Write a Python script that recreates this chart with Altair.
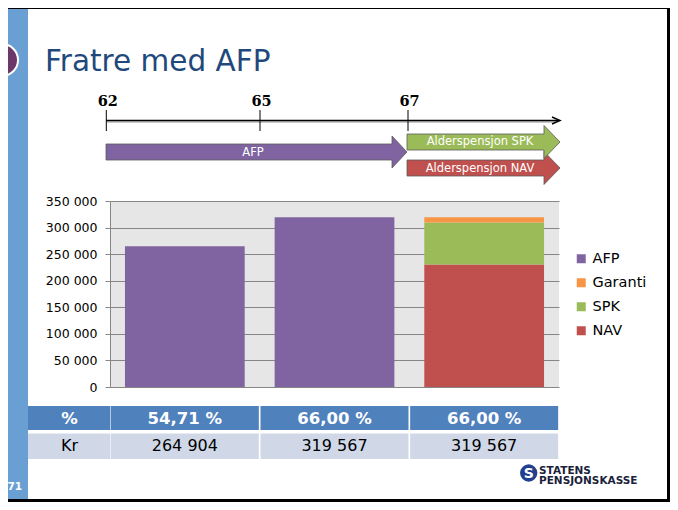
import altair as alt
import pandas as pd

# ---------------- data ----------------
CATS = ["62–64", "65–66", "67+"]
COMPONENTS = ["AFP", "Garanti", "SPK", "NAV"]
COLORS = ["#8064A2", "#F79646", "#9BBB59", "#C0504D"]

BAR_CAT = ["62–64", "65–66", "67+", "67+", "67+"]
BAR_COMP = ["AFP", "AFP", "NAV", "SPK", "Garanti"]
BAR_VAL = [264904, 319567, 230500, 79000, 10067]
STACK_RANK = {"AFP": 0, "NAV": 0, "SPK": 1, "Garanti": 2}

Y_TICKS = [0, 50000, 100000, 150000, 200000, 250000, 300000, 350000]

ROW1_LABEL = "%"
ROW1 = ["54,71 %", "66,00 %", "66,00 %"]
ROW2_LABEL = "Kr"
ROW2 = ["264 904", "319 567", "319 567"]

TITLE = "Fratre med AFP"
AGES = ["62", "65", "67"]
ARROW_TEXT = ["AFP", "Alderspensjon SPK", "Alderspensjon NAV"]
PAGE_NO = "71"
LOGO_TEXT = ["STATENS", "PENSJONSKASSE"]

# ---------------- layout (page pixels) ----------------
X0, Y0 = 110, 201          # page position of plot origin
PW, PH = 449, 186          # plot area
TOTAL_W, TOTAL_H = 662, 494
PAD = {"left": X0 - 8, "top": Y0 - 8,
       "right": TOTAL_W - (X0 - 8) - PW, "bottom": TOTAL_H - (Y0 - 8) - PH}


def X(p):
    return p - X0


def Y(p):
    return p - Y0


one = pd.DataFrame({"k": [0]})
FONT = "DejaVu Sans"


def rect(x1, x2, y1, y2, color):
    return alt.Chart(one).mark_rect(color=color).encode(
        x=alt.value(X(x1)), x2=alt.value(X(x2)),
        y=alt.value(Y(y1)), y2=alt.value(Y(y2)))


def label(text, x, y, size, color="black", font=FONT, weight="normal",
          align="center", baseline="middle", **kw):
    return alt.Chart(one).mark_text(
        text=text, fontSize=size, color=color, font=font, fontWeight=weight,
        align=align, baseline=baseline, **kw).encode(
        x=alt.value(X(x)), y=alt.value(Y(y)))


def shape(path, x, y, fill=None, stroke=None, sw=1.0):
    kw = dict(shape=path, size=4, opacity=1, strokeWidth=sw)
    if fill:
        kw.update(filled=True, fill=fill)
    else:
        kw.update(filled=False)
    if stroke:
        kw.update(stroke=stroke)
    return alt.Chart(one).mark_point(**kw).encode(
        x=alt.value(X(x)), y=alt.value(Y(y)))


layers = []

# slide frame / stripe
layers.append(rect(8, 28, 8, 503, "#6A9FD3"))
layers.append(rect(8, 670, 6, 9, "black"))
layers.append(rect(667, 670, 6, 503, "black"))
layers.append(rect(8, 670, 499, 503, "black"))
layers.append(alt.Chart(one).mark_point(
    shape="circle", size=1024, filled=True, fill="#6B3868", stroke="white",
    strokeWidth=2, opacity=1).encode(x=alt.value(X(2)), y=alt.value(Y(60))))

# title
layers.append(label(TITLE, 45, 71, 29.5, color="#1F497D", align="left",
                    baseline="alphabetic"))

# timeline
layers.append(alt.Chart(one).mark_rule(color="#b5b5b5", strokeWidth=1.5).encode(
    x=alt.value(X(106)), x2=alt.value(X(556)), y=alt.value(Y(122))))
layers.append(alt.Chart(one).mark_rule(color="black", strokeWidth=1.3).encode(
    x=alt.value(X(106)), x2=alt.value(X(559)), y=alt.value(Y(120.5))))
layers.append(shape("M -8 -3.5 L 0 0 L -8 3.5", 560, 120.5, stroke="black", sw=1.5))
TICK_X = [106.3, 260, 408]
for age, tx in zip(AGES, TICK_X):
    layers.append(alt.Chart(one).mark_rule(color="black", strokeWidth=1).encode(
        x=alt.value(X(tx)), y=alt.value(Y(110)), y2=alt.value(Y(131))))
    layers.append(label(age, tx + 1.5, 106, 14.5, font="DejaVu Serif",
                        weight="bold", baseline="alphabetic"))

# arrows
AFP_PATH = "M 0 -8 L 286 -8 L 286 -16 L 301 0 L 286 16 L 286 8 L 0 8 Z"
AP_PATH = "M 0 -8 L 137 -8 L 137 -16.5 L 153 0 L 137 16.5 L 137 8 L 0 8 Z"
layers.append(shape(AFP_PATH, 106, 152, fill=COLORS[0], stroke="#5a5a5a", sw=0.8))
layers.append(shape(AP_PATH, 407, 168, fill=COLORS[3], stroke="#5a5a5a", sw=0.8))
layers.append(shape(AP_PATH, 407, 142, fill=COLORS[2], stroke="#5a5a5a", sw=0.8))
layers.append(label(ARROW_TEXT[0], 253, 152.5, 11.5, color="white"))
layers.append(label(ARROW_TEXT[1], 480, 142, 11.5, color="white"))
layers.append(label(ARROW_TEXT[2], 480, 168.5, 11.5, color="white"))

# stacked bars
bars_df = pd.DataFrame({"cat": BAR_CAT, "comp": BAR_COMP, "val": BAR_VAL})
bars_df["rank"] = bars_df["comp"].map(STACK_RANK)
xenc = alt.X("cat:N", sort=CATS, axis=None,
             scale=alt.Scale(paddingInner=0.2, paddingOuter=0.1))
bars = alt.Chart(bars_df).mark_bar().encode(
    x=xenc,
    y=alt.Y("val:Q", stack="zero",
            scale=alt.Scale(domain=[0, 350000], nice=False),
            axis=alt.Axis(values=Y_TICKS, title=None,
                          labelExpr="replace(format(datum.value, ','), ',', ' ')",
                          domainColor="#868686", tickColor="#868686",
                          gridColor="#868686", grid=True, tickSize=5,
                          labelPadding=8, labelFontSize=12.5,
                          labelColor="black", labelFont=FONT)),
    color=alt.Color("comp:N", scale=alt.Scale(domain=COMPONENTS, range=COLORS),
                    legend=alt.Legend(orient="none", legendX=464, legendY=50.5,
                                      title=None, symbolType="square",
                                      symbolSize=81, symbolStrokeWidth=0,
                                      labelFontSize=14.5, labelColor="black",
                                      labelFont=FONT, rowPadding=9, padding=0,
                                      labelOffset=4)),
    order=alt.Order("rank:Q", sort="ascending"),
)
layers.append(bars)

# table
tab_df = pd.DataFrame({"cat": CATS, "r1": ROW1, "r2": ROW2})
layers.append(rect(28, 110.3, 406, 430, "#4F81BD"))
layers.append(rect(28, 110.3, 433.5, 459, "#D0D8E8"))
layers.append(alt.Chart(tab_df).mark_bar(width=148, color="#4F81BD").encode(
    x=xenc, y=alt.value(Y(406)), y2=alt.value(Y(430))))
layers.append(alt.Chart(tab_df).mark_bar(width=148, color="#D0D8E8").encode(
    x=xenc, y=alt.value(Y(433.5)), y2=alt.value(Y(459))))
layers.append(label(ROW1_LABEL, 69.5, 418.5, 16.5, color="white", weight="bold"))
layers.append(label(ROW2_LABEL, 69.5, 446, 16))
layers.append(alt.Chart(tab_df).mark_text(
    fontSize=16.5, fontWeight="bold", color="white", font=FONT,
    baseline="middle").encode(x=xenc, y=alt.value(Y(418.5)), text="r1:N"))
layers.append(alt.Chart(tab_df).mark_text(
    fontSize=16, color="black", font=FONT,
    baseline="middle").encode(x=xenc, y=alt.value(Y(446)), text="r2:N"))

# page number and logo
layers.append(label(PAGE_NO, 14.7, 487, 10.5, color="white", weight="bold"))
layers.append(alt.Chart(one).mark_point(
    shape="circle", size=300, filled=True, fill="#23408F", opacity=1).encode(
    x=alt.value(X(528.7)), y=alt.value(Y(473))))
layers.append(label("S", 528.7, 473.5, 14, color="white", weight="bold"))
layers.append(label(LOGO_TEXT, 539, 473.5, 10.5, color="#1b1f3b",
                    font=FONT, weight="bold", align="left",
                    baseline="alphabetic", lineHeight=10.5))

chart = alt.layer(*layers).properties(
    width=PW, height=PH, padding=PAD,
    autosize=alt.AutoSizeParams(type="none"),
    background="white",
).configure_view(fill="#E6E6E6", stroke=None)

chart.save("out.html", embed_options={"renderer": "svg", "actions": False})
